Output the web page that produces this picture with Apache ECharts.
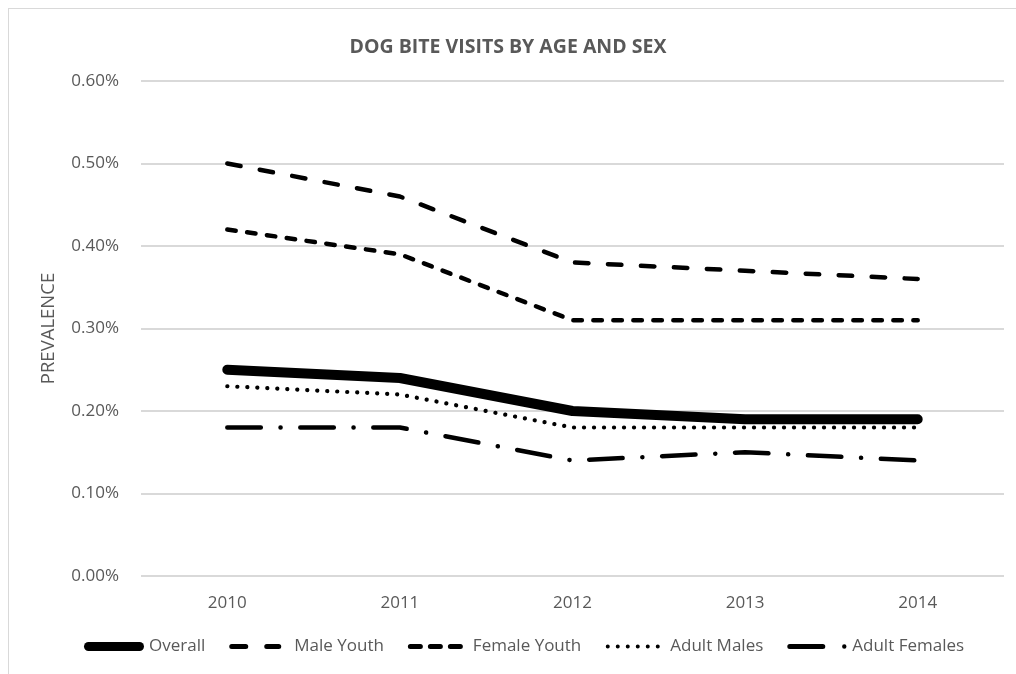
<!DOCTYPE html>
<html>
<head>
<meta charset="utf-8">
<script src="https://cdn.jsdelivr.net/npm/echarts@6/dist/echarts.min.js"></script>
<style>
html,body{margin:0;padding:0;background:#fff;}
#frame{position:absolute;left:8px;top:8px;width:1040px;height:700px;border:1px solid #d9d9d9;box-sizing:border-box;}
#chart{position:absolute;left:0;top:0;width:1016px;height:674px;}
</style>
</head>
<body>
<div id="frame"></div>
<div id="chart"></div>
<script>
const years = ['2010','2011','2012','2013','2014'];
const seriesNames = ['Overall','Male Youth','Female Youth','Adult Males','Adult Females'];
const overall = [0.25, 0.24, 0.20, 0.19, 0.19];
const maleYouth = [0.50, 0.46, 0.38, 0.37, 0.36];
const femaleYouth = [0.42, 0.39, 0.31, 0.31, 0.31];
const adultMales = [0.23, 0.22, 0.18, 0.18, 0.18];
const adultFemales = [0.18, 0.18, 0.14, 0.15, 0.14];
const yTicks = [0, 0.1, 0.2, 0.3, 0.4, 0.5, 0.6];

const font = "'Open Sans', 'Noto Sans', sans-serif";
const grey = '#595959';

// legend icon helpers (60 x 10 box)
function pill(x0, x1, h) {
  const r = h / 2, y0 = 5 - r, y1 = 5 + r;
  return 'M' + (x0 + r) + ',' + y0 + ' L' + (x1 - r) + ',' + y0 +
    ' A' + r + ',' + r + ' 0 0 1 ' + (x1 - r) + ',' + y1 +
    ' L' + (x0 + r) + ',' + y1 +
    ' A' + r + ',' + r + ' 0 0 1 ' + (x0 + r) + ',' + y0 + ' Z ';
}
function dot(cx, r) {
  return 'M' + (cx - r) + ',5 A' + r + ',' + r + ' 0 1 0 ' + (cx + r) + ',5 A' + r + ',' + r + ' 0 1 0 ' + (cx - r) + ',5 Z ';
}
const anchor = 'M0,0 M60,10 ';
const icons = {
  'Overall': 'path://' + anchor + pill(0, 60, 9),
  'Male Youth': 'path://' + anchor + pill(0, 19, 5) + pill(35, 52, 5),
  'Female Youth': 'path://' + anchor + pill(0, 15, 5) + pill(20, 35, 5) + pill(40, 55, 5),
  'Adult Males': 'path://' + anchor + dot(2.5, 2) + dot(12.5, 2) + dot(22.5, 2) + dot(32.5, 2) + dot(42.5, 2) + dot(52.5, 2),
  'Adult Females': 'path://' + anchor + pill(0, 38, 5) + dot(57, 2.2)
};

function mk(name, data, width, type, cap) {
  return {
    name: name, type: 'line', data: data, symbol: 'none', smooth: false,
    lineStyle: {color: '#000', width: width, type: type, cap: cap, join: 'round'},
    itemStyle: {color: '#000', borderWidth: 0}
  };
}

const chart = echarts.init(document.getElementById('chart'));
chart.setOption({
  animation: false,
  backgroundColor: 'transparent',
  title: {
    text: 'DOG BITE VISITS BY AGE AND SEX',
    left: 'center', top: 32,
    textStyle: {fontFamily: font, fontSize: 19.5, fontWeight: 'bold', color: grey}
  },
  grid: {left: 141, right: 12, top: 81, bottom: 98, containLabel: false},
  legend: {
    top: 633, left: 79,
    itemWidth: 60, itemHeight: 10, itemGap: 24,
    itemStyle: {borderWidth: 0, color: '#000'},
    textStyle: {fontFamily: font, fontSize: 17, color: grey},
    data: seriesNames.map(n => ({name: n, icon: icons[n]}))
  },
  xAxis: {
    type: 'category', data: years, boundaryGap: true,
    axisLine: {show: false}, axisTick: {show: false},
    axisLabel: {fontFamily: font, fontSize: 17, color: grey, margin: 19}
  },
  yAxis: {
    type: 'value', min: yTicks[0], max: yTicks[yTicks.length-1], interval: 0.1,
    name: 'PREVALENCE', nameLocation: 'middle', nameGap: 83, nameRotate: 90,
    nameTextStyle: {fontFamily: font, fontSize: 18.5, color: grey},
    axisLine: {show: false}, axisTick: {show: false},
    splitLine: {lineStyle: {color: '#d9d9d9', width: 2}},
    axisLabel: {fontFamily: font, fontSize: 17, color: grey, margin: 22,
      formatter: v => v.toFixed(2) + '%'}
  },
  series: [
    mk('Adult Females', adultFemales, 4.5, [33.5, 19.7, 0.1, 19.7], 'round'),
    mk('Adult Males', adultMales, 4.2, [0.1, 9.9], 'round'),
    mk('Female Youth', femaleYouth, 4.5, [8.5, 11.5], 'round'),
    mk('Male Youth', maleYouth, 4.5, [13.5, 19.5], 'round'),
    mk('Overall', overall, 10, 'solid', 'round')
  ]
});
</script>
</body>
</html>
